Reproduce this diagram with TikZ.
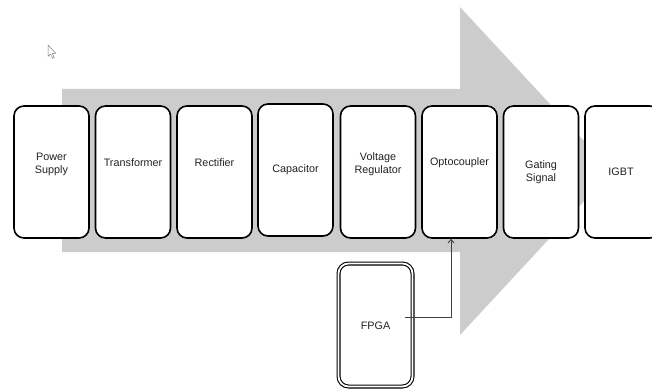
\documentclass[tikz,border=0pt]{standalone}
\usepackage{fontspec}
\setmainfont{Liberation Sans}
\usetikzlibrary{arrows.meta,calc}
\definecolor{arrowgray}{HTML}{CCCCCC}
\definecolor{txt}{HTML}{222222}
\definecolor{conn}{HTML}{404040}
\tikzset{
  card/.style={draw=black, line width=1.6pt, rounded corners=10pt, fill=white,
    minimum width=75pt, minimum height=132pt, inner sep=0pt},
  lbl/.style={text=txt, font=\fontsize{10.8pt}{13pt}\selectfont, align=center, inner sep=0pt},
  dcard/.style={draw=black, line width=1.1pt, double=white, double distance=1.8pt,
    rounded corners=10pt, fill=white, minimum width=74pt, minimum height=123pt, inner sep=0pt},
  conline/.style={draw=conn, line width=0.9pt, -{Straight Barb[length=3.5pt,width=6pt]}}
}
\begin{document}
\begin{tikzpicture}[x=1pt,y=-1pt]
\useasboundingbox (0,0) rectangle (652,390);
\clip (0,0) rectangle (652,390);
% big arrow
\fill[arrowgray] (62,89) -- (460,89) -- (460,7) -- (612,171) -- (460,335) -- (460,252) -- (62,252) -- cycle;
% cursor
\draw[gray, fill=white, line width=0.5pt, line join=round] (48,45) -- (48,56.5) -- (50.6,54) -- (52.6,58.3) -- (54.2,57.5) -- (52.3,53.3) -- (55.8,53.3) -- cycle;
% boxes
\node[card] (b1) at (51.5,172) {};
\node[card] (b2) at (133,172) {};
\node[card] (b3) at (214.5,172) {};
\node[card] (b4) at (295.5,170) {};
\node[card] (b5) at (378,172) {};
\node[card] (b6) at (459.5,172) {};
\node[card] (b7) at (541,172) {};
\node[card] (b8) at (622.5,172) {};
% labels
\node[lbl] (t1) at (51.5,164) {Power\\Supply};
\node[lbl] (t2) at (133,163) {Transformer};
\node[lbl] (t3) at (214.5,163) {Rectifier};
\node[lbl] (t4) at (295.5,169.5) {Capacitor};
\node[lbl] (t5) at (378,164) {Voltage\\Regulator};
\node[lbl] (t6) at (459.5,163) {Optocoupler};
\node[lbl] (t7) at (541,172) {Gating\\Signal};
\node[lbl] (t8) at (621,171.5) {IGBT};
% FPGA
\node[dcard] (fpga) at (375.5,325) {};
\node[lbl] (tf) at (375.5,326) {FPGA};
% connector
\coordinate (c0) at (405,317);
\draw[conline] (c0) -| ([xshift=-8.5pt]b6.south);
\end{tikzpicture}
\end{document}
